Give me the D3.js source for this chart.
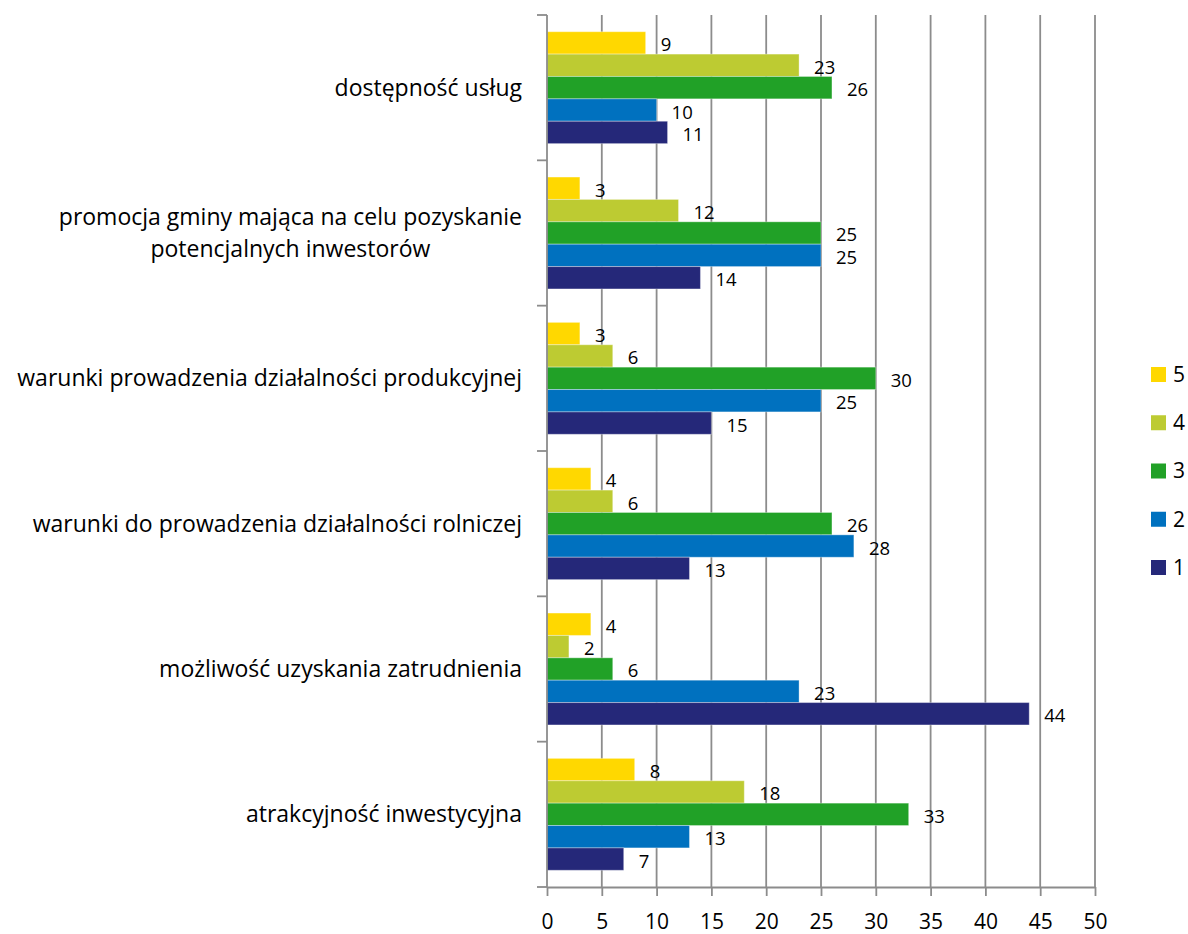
<!DOCTYPE html>
<html lang="pl">
    <head>
        <meta charset="utf-8">
        <title>Ocena gminy</title>
        <script src="https://d3js.org/d3.v7.min.js"></script>
        <style type="text/css">
            body { margin: 0; background: #fff; }
            text { font-family: "Open Sans", sans-serif; fill: #000; }
        </style>
    </head>
    <body>
        <script type="text/javascript">

            // data
            var categories = [
                "dostępność usług",
                "promocja gminy mająca na celu pozyskanie|potencjalnych inwestorów",
                "warunki prowadzenia działalności produkcyjnej",
                "warunki do prowadzenia działalności rolniczej",
                "możliwość uzyskania zatrudnienia",
                "atrakcyjność inwestycyjna"
            ];
            var seriesNames = ["5", "4", "3", "2", "1"];
            var s5 = [9, 3, 3, 4, 4, 8];
            var s4 = [23, 12, 6, 6, 2, 18];
            var s3 = [26, 25, 30, 26, 6, 33];
            var s2 = [10, 25, 25, 28, 23, 13];
            var s1 = [11, 14, 15, 13, 44, 7];
            var xTicks = [0, 5, 10, 15, 20, 25, 30, 35, 40, 45, 50];

            var seriesValues = [s5, s4, s3, s2, s1];
            var colors = ["#ffd800", "#bdcb32", "#21a127", "#0071bf", "#252879"];

            var svgWidth = 1188, svgHeight = 934;
            // plot area edges
            var plotLeft = 547, plotRight = 1095, plotTop = 15, plotBottom = 887;

            var svg = d3.select("body").append("svg")
                .attr("width", svgWidth)
                .attr("height", svgHeight);

            var x = d3.scaleLinear().domain([0, 50]).range([plotLeft, plotRight]);
            var y = d3.scaleBand().domain(categories).range([plotTop, plotBottom]).padding(0);
            var pad = y.bandwidth() * 0.115;
            var yInner = d3.scaleBand().domain(seriesNames).range([pad, y.bandwidth() - pad]).padding(0);
            var color = d3.scaleOrdinal().domain(seriesNames).range(colors);

            var gridColor = "#8c8c8c";

            // vertical gridlines
            svg.append("g").selectAll("line")
                .data(xTicks.slice(1))
                .enter().append("line")
                .attr("x1", function(d) { return x(d); })
                .attr("x2", function(d) { return x(d); })
                .attr("y1", plotTop)
                .attr("y2", plotBottom)
                .attr("stroke", gridColor)
                .attr("stroke-width", 1.8);

            // bars
            var rows = [];
            categories.forEach(function(c, i) {
                seriesNames.forEach(function(s, j) {
                    rows.push({cat: c, series: s, value: seriesValues[j][i]});
                });
            });

            var bars = svg.append("g").selectAll("g")
                .data(rows)
                .enter().append("g")
                .attr("transform", function(d) { return "translate(0," + (y(d.cat) + yInner(d.series)) + ")"; });

            bars.append("rect")
                .attr("x", x(0))
                .attr("y", 0)
                .attr("width", function(d) { return x(d.value) - x(0); })
                .attr("height", yInner.bandwidth())
                .attr("fill", function(d) { return color(d.series); })
                .attr("stroke", "rgba(255,255,255,0.35)")
                .attr("stroke-width", 1);

            bars.append("text")
                .attr("x", function(d) { return x(d.value) + 15; })
                .attr("y", yInner.bandwidth() / 2 + 2)
                .attr("dy", "0.35em")
                .style("font-size", "18.5px")
                .text(function(d) { return d.value; });

            // left axis line and tick marks at band edges
            var edges = categories.map(function(c) { return y(c); }).concat([plotBottom]);
            svg.append("line")
                .attr("x1", plotLeft).attr("x2", plotLeft)
                .attr("y1", plotTop).attr("y2", plotBottom)
                .attr("stroke", gridColor).attr("stroke-width", 1.8);
            svg.append("g").selectAll("line")
                .data(edges)
                .enter().append("line")
                .attr("x1", plotLeft - 10).attr("x2", plotLeft)
                .attr("y1", function(d) { return d; })
                .attr("y2", function(d) { return d; })
                .attr("stroke", gridColor).attr("stroke-width", 1.8);

            // bottom axis
            var xAxis = d3.axisBottom(x)
                .tickValues(xTicks)
                .tickSize(9)
                .tickSizeOuter(0)
                .tickPadding(18);
            var gx = svg.append("g")
                .attr("transform", "translate(0," + plotBottom + ")")
                .call(xAxis);
            gx.select(".domain").attr("stroke", gridColor).attr("stroke-width", 1.8);
            gx.selectAll(".tick line").attr("stroke", gridColor).attr("stroke-width", 1.8);
            gx.selectAll(".tick text")
                .style("font-size", "21px")
                .style("font-family", "'Open Sans', sans-serif")
                .attr("fill", "#000");

            // category labels (multi-line ones are centred under the longest line)
            var labelRight = 522;
            var labels = svg.append("g").selectAll("g")
                .data(categories)
                .enter().append("g")
                .attr("transform", function(d) { return "translate(0," + (y(d) + y.bandwidth() / 2) + ")"; });

            labels.each(function(d) {
                var g = d3.select(this);
                var lines = d.split("|");
                var lh = 32;
                var t = g.selectAll("text")
                    .data(lines)
                    .enter().append("text")
                    .attr("y", function(l, i) { return (i - (lines.length - 1) / 2) * lh; })
                    .attr("dy", "0.35em")
                    .style("font-size", "23px")
                    .text(function(l) { return l; });
                var widths = [];
                t.each(function() { widths.push(this.getComputedTextLength()); });
                var maxW = d3.max(widths);
                t.attr("text-anchor", "middle")
                    .attr("x", labelRight - maxW / 2);
            });

            // legend
            var legend = svg.append("g").selectAll("g")
                .data(seriesNames)
                .enter().append("g")
                .attr("transform", function(d, i) { return "translate(1151," + (374.5 + i * 48.25) + ")"; });
            legend.append("rect")
                .attr("x", 0).attr("y", -7.5)
                .attr("width", 15).attr("height", 15)
                .attr("fill", function(d) { return color(d); });
            legend.append("text")
                .attr("x", 22)
                .attr("y", 0)
                .attr("dy", "0.35em")
                .style("font-size", "21px")
                .text(function(d) { return d; });
        </script>
    </body>
</html>
